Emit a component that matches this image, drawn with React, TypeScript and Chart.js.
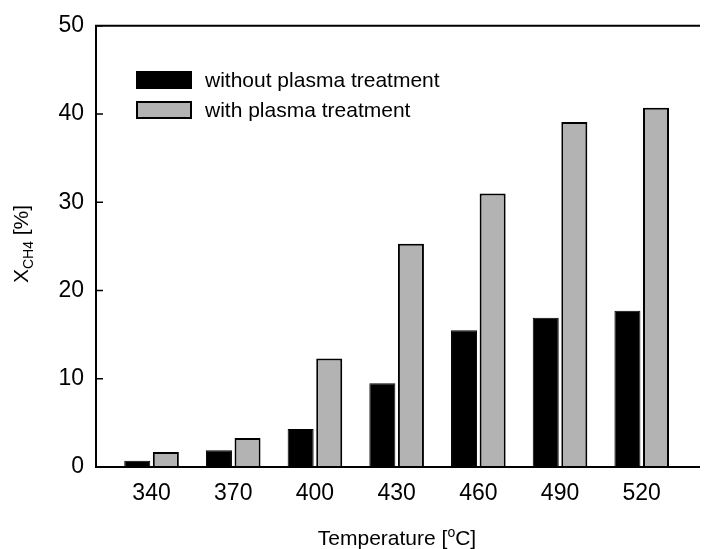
import { useEffect, useRef } from 'react';
import { Chart, registerables } from 'chart.js';

Chart.register(...registerables);

const temperatures = [340, 370, 400, 430, 460, 490, 520];
const withoutPlasma = [0.7, 1.9, 4.3, 9.5, 15.5, 16.9, 17.7];
const withPlasma = [1.7, 3.3, 12.3, 25.3, 31.0, 39.1, 40.7];
const yTicks = [0, 10, 20, 30, 40, 50];
const seriesNames = ['without plasma treatment', 'with plasma treatment'];
const seriesColors = ['#000000', '#b3b3b3'];

const FONT = '"Liberation Sans", Arial, Helvetica, sans-serif';

const decor = {
  id: 'decor',
  afterDraw(chart: any) {
    const { ctx, chartArea: a, scales } = chart;
    const y = scales.y;
    ctx.save();
    ctx.strokeStyle = '#000';
    ctx.lineWidth = 2;
    ctx.lineJoin = 'miter';
    ctx.beginPath();
    ctx.moveTo(a.right, a.top);
    ctx.lineTo(a.left, a.top);
    ctx.lineTo(a.left, a.bottom);
    ctx.lineTo(a.right, a.bottom);
    ctx.stroke();

    ctx.lineWidth = 1.5;
    ctx.beginPath();
    yTicks.forEach((v) => {
      const py = y.getPixelForValue(v);
      ctx.moveTo(a.left, py);
      ctx.lineTo(a.left + 7, py);
    });
    ctx.stroke();

    // legend
    const boxX = 136;
    const boxW = 56;
    const boxH = 18;
    const rows = [80, 110];
    ctx.font = `21px ${FONT}`;
    ctx.textBaseline = 'middle';
    ctx.textAlign = 'left';
    seriesNames.forEach((name, i) => {
      const cy = rows[i];
      ctx.fillStyle = seriesColors[i];
      ctx.fillRect(boxX, cy - boxH / 2, boxW, boxH);
      ctx.lineWidth = 2;
      ctx.strokeStyle = '#000';
      ctx.strokeRect(boxX + 1, cy - boxH / 2 + 1, boxW - 2, boxH - 2);
      ctx.fillStyle = '#000';
      ctx.fillText(name, 205, cy + 1);
    });

    // x title: Temperature [°C]
    ctx.textBaseline = 'alphabetic';
    const big = `21px ${FONT}`;
    const small = `14px ${FONT}`;
    const p1 = 'Temperature [';
    const p2 = 'o';
    const p3 = 'C]';
    ctx.font = big;
    const w1 = ctx.measureText(p1).width;
    const w3 = ctx.measureText(p3).width;
    ctx.font = small;
    const w2 = ctx.measureText(p2).width;
    const total = w1 + w2 + w3;
    const cx = 397;
    const by = 545;
    let x = cx - total / 2;
    ctx.fillStyle = '#000';
    ctx.font = big;
    ctx.fillText(p1, x, by);
    x += w1;
    ctx.font = small;
    ctx.fillText(p2, x, by - 8);
    x += w2;
    ctx.font = big;
    ctx.fillText(p3, x, by);

    // y title: X_CH4 [%]
    ctx.save();
    ctx.translate(28, 244);
    ctx.rotate(-Math.PI / 2);
    const q1 = 'X';
    const q2 = 'CH4';
    const q3 = ' [%]';
    ctx.font = big;
    const v1 = ctx.measureText(q1).width;
    const v3 = ctx.measureText(q3).width;
    ctx.font = small;
    const v2 = ctx.measureText(q2).width;
    let lx = -(v1 + v2 + v3) / 2;
    ctx.font = big;
    ctx.fillText(q1, lx, 0);
    lx += v1;
    ctx.font = small;
    ctx.fillText(q2, lx, 5);
    lx += v2;
    ctx.font = big;
    ctx.fillText(q3, lx, 0);
    ctx.restore();

    ctx.restore();
  },
};

export default function App() {
  const ref = useRef<HTMLCanvasElement | null>(null);

  useEffect(() => {
    if (!ref.current) return;
    const chart = new Chart(ref.current, {
      type: 'bar',
      data: {
        datasets: [
          {
            label: seriesNames[0],
            data: temperatures.map((t, i) => ({ x: t, y: withoutPlasma[i] })),
            backgroundColor: seriesColors[0],
            borderColor: '#000',
            borderWidth: 1,
            categoryPercentage: 0.7,
            barPercentage: 0.91,
          },
          {
            label: seriesNames[1],
            data: temperatures.map((t, i) => ({ x: t, y: withPlasma[i] })),
            backgroundColor: seriesColors[1],
            borderColor: '#000',
            borderWidth: 2,
            categoryPercentage: 0.7,
            barPercentage: 0.91,
          },
        ],
      },
      options: {
        animation: false,
        responsive: true,
        maintainAspectRatio: false,
        layout: { padding: { top: 23, right: 5, left: 0, bottom: 0 } },
        plugins: { legend: { display: false }, tooltip: { enabled: false } },
        scales: {
          x: {
            type: 'linear',
            offset: false,
            min: 319.6,
            max: 541.4,
            afterBuildTicks: (s: any) => {
              s.ticks = temperatures.map((v) => ({ value: v }));
            },
            afterFit: (s: any) => {
              s.height = 82;
            },
            grid: { display: false, drawTicks: false, offset: false },
            border: { display: false },
            ticks: {
              autoSkip: false,
              maxRotation: 0,
              padding: 13,
              color: '#000',
              font: { family: FONT, size: 23 },
              callback: (v: any) => String(v),
            },
          },
          y: {
            min: 0,
            max: 50,
            afterBuildTicks: (s: any) => {
              s.ticks = yTicks.map((v) => ({ value: v }));
            },
            afterFit: (s: any) => {
              s.width = 96;
            },
            grid: { display: false, drawTicks: false },
            border: { display: false },
            ticks: {
              padding: 12,
              color: '#000',
              font: { family: FONT, size: 23 },
              callback: (v: any) => String(v),
            },
          },
        },
      },
      plugins: [decor],
    });
    return () => chart.destroy();
  }, []);

  return (
    <div style={{ position: 'fixed', left: 0, top: 0, width: 705, height: 549 }}>
      <canvas ref={ref} />
    </div>
  );
}
